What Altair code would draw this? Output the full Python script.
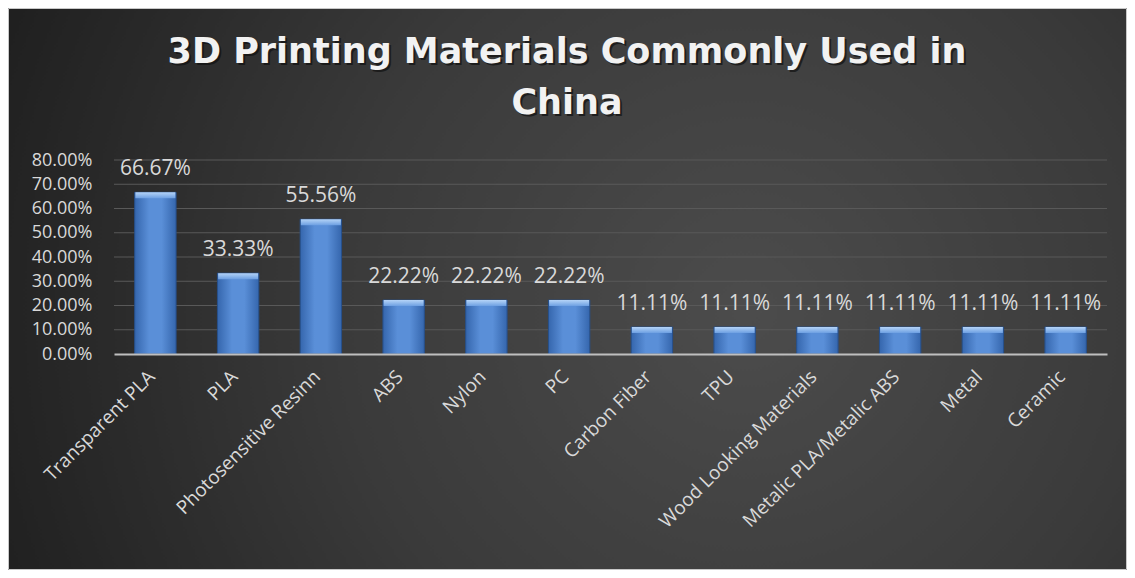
import altair as alt
import pandas as pd

materials = [
    "Transparent PLA", "PLA", "Photosensitive Resinn", "ABS", "Nylon", "PC",
    "Carbon Fiber", "TPU", "Wood Looking Materials", "Metalic PLA/Metalic ABS",
    "Metal", "Ceramic",
]
shares = [0.6667, 0.3333, 0.5556, 0.2222, 0.2222, 0.2222,
          0.1111, 0.1111, 0.1111, 0.1111, 0.1111, 0.1111]
y_ticks = [0.0, 0.1, 0.2, 0.3, 0.4, 0.5, 0.6, 0.7, 0.8]
title_line1 = "3D Printing Materials Commonly Used in"
title_line2 = "China"

df = pd.DataFrame({"material": materials, "share": shares})
grid_df = pd.DataFrame({"g": y_ticks[1:]})

W, H = 993, 194
PL, PT, PR, PB = 106, 152, 20, 216
FONT = "Open Sans"
TXT = "#d9d9d9"

bg_grad = alt.RadialGradient(
    gradient="radial",
    x1=0.66, y1=0.52, r1=0.0,
    x2=0.66, y2=0.52, r2=0.72,
    stops=[alt.GradientStop(color="#4c4c4c", offset=0),
           alt.GradientStop(color="#3a3a3a", offset=0.5),
           alt.GradientStop(color="#1f1f1f", offset=1)],
)
bar_grad = alt.LinearGradient(
    gradient="linear", x1=0, x2=1, y1=0, y2=0,
    stops=[alt.GradientStop(color="#3566ad", offset=0),
           alt.GradientStop(color="#5a8fd8", offset=0.35),
           alt.GradientStop(color="#5a8fd8", offset=0.65),
           alt.GradientStop(color="#3566ad", offset=1)],
)
bevel_grad = alt.LinearGradient(
    gradient="linear", x1=0, x2=0, y1=0, y2=1,
    stops=[alt.GradientStop(color="#b4d3f7", offset=0),
           alt.GradientStop(color="#6c9fe2", offset=1)],
)

one = alt.Data(values=[{"k": 1}])

y_axis = alt.Axis(
    title=None, values=y_ticks, format=".2%", grid=False, domain=False,
    ticks=False, labelPadding=22, labelFont=FONT, labelFontSize=18,
    labelColor=TXT, labelOverlap=False, zindex=1,
)
y_scale = alt.Scale(domain=[0, 0.8], nice=False)

bg = alt.Chart(one).mark_rect(fill=bg_grad, stroke="#c8c8c8", strokeWidth=1).encode(
    x=alt.value(-PL + 0.5), x2=alt.value(W + PR - 0.5),
    y=alt.value(-PT + 0.5), y2=alt.value(H + PB - 0.5),
)

grid = alt.Chart(grid_df).mark_rule(color="#595959", strokeWidth=1).encode(
    y=alt.Y("g:Q", scale=y_scale, axis=y_axis),
    x=alt.value(0), x2=alt.value(W),
)

x_enc = alt.X(
    "material:N", sort=materials,
    scale=alt.Scale(paddingInner=0.5, paddingOuter=0.25),
    axis=alt.Axis(
        title=None, labelAngle=-45, labelFont=FONT, labelFontSize=19,
        labelColor=TXT, domainColor="#bfbfbf", domainWidth=2, ticks=False,
        labelPadding=13, labelOffset=-10, labelLimit=400, labelOverlap=False,
        zindex=1,
    ),
)
y_enc = alt.Y("share:Q", scale=y_scale, axis=y_axis)

bars = alt.Chart(df).mark_bar(fill=bar_grad, stroke="#27508c", strokeWidth=1).encode(
    x=x_enc, y=y_enc,
)

bevel = alt.Chart(df).mark_tick(fill=bevel_grad, size=40, thickness=6, yOffset=3, opacity=1).encode(
    x=x_enc, y=y_enc,
)

labels = alt.Chart(df).mark_text(
    baseline="alphabetic", dy=-17, font=FONT, fontSize=21, color=TXT,
).encode(
    x=x_enc, y=y_enc,
    text=alt.Text("share:Q", format=".2%"),
)

TX = 567 - 8 - PL
title_kw = dict(font="DejaVu Sans", fontSize=35, fontWeight="bold",
                align="center", baseline="alphabetic")
t1s = alt.Chart(one).mark_text(text=title_line1, color="#111111", opacity=0.7, **title_kw).encode(
    x=alt.value(TX + 2), y=alt.value(63 - 8 - PT + 2))
t2s = alt.Chart(one).mark_text(text=title_line2, color="#111111", opacity=0.7, **title_kw).encode(
    x=alt.value(TX + 2), y=alt.value(114 - 8 - PT + 2))
t1 = alt.Chart(one).mark_text(text=title_line1, color="#f2f2f2", **title_kw).encode(
    x=alt.value(TX), y=alt.value(63 - 8 - PT))
t2 = alt.Chart(one).mark_text(text=title_line2, color="#f2f2f2", **title_kw).encode(
    x=alt.value(TX), y=alt.value(114 - 8 - PT))

chart = alt.layer(bg, grid, bars, bevel, labels, t1s, t2s, t1, t2).properties(
    width=W, height=H,
    padding={"left": PL, "top": PT, "right": PR, "bottom": PB},
    autosize=alt.AutoSizeParams(type="none"),
).configure_view(stroke=None).configure(background="#2a2a2a")

chart.save("out.html", embed_options={"renderer": "svg", "actions": False})
